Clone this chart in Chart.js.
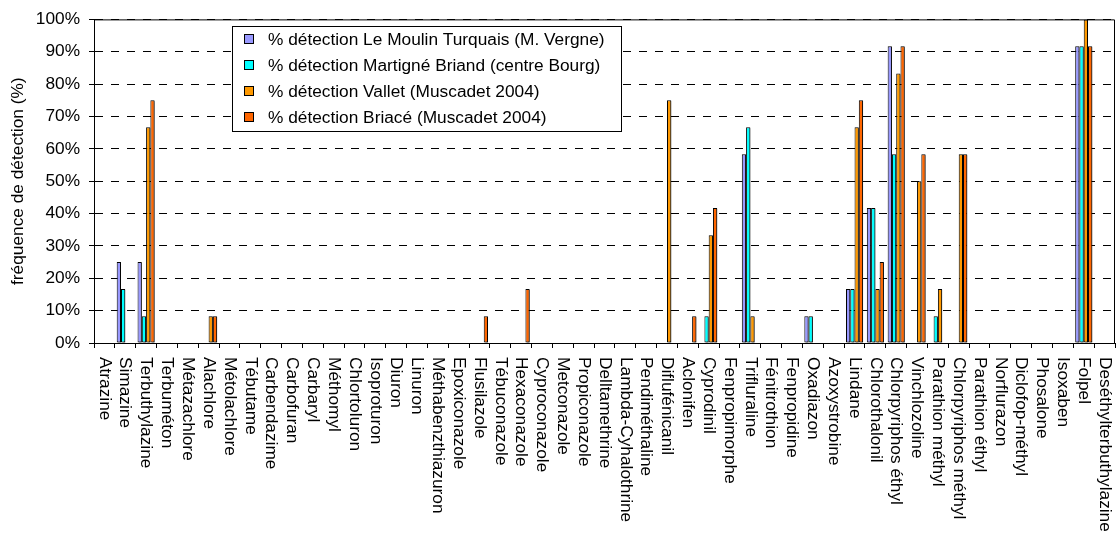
<!DOCTYPE html>
<html>
<head>
<meta charset="utf-8">
<script src="https://cdn.jsdelivr.net/npm/chart.js@4.4.1/dist/chart.umd.min.js"></script>
<style>
    html, body { margin: 0; padding: 0; background: #fff; }
</style>
</head>
<body>
<canvas id="frequence" width="1116" height="536"></canvas>
<script>
const molecules = ['Atrazine', 'Simazine', 'Terbuthylazine', 'Terbuméton', 'Métazachlore', 'Alachlore', 'Métolachlore', 'Tébutame',
    'Carbendazime', 'Carbofuran', 'Carbaryl', 'Méthomyl', 'Chlortoluron', 'Isoproturon', 'Diuron', 'Linuron', 'Méthabenzthiazuron',
    'Epoxiconazole', 'Flusilazole', 'Tébuconazole', 'Hexaconazole', 'Cyproconazole', 'Metconazole', 'Propiconazole', 'Delltamethrine',
    'Lambda-Cyhalothrine', 'Pendiméthaline', 'Diflufénicanil', 'Aclonifen', 'Cyprodinil', 'Fenpropimorphe', 'Trifluraline',
    'Fénitrothion', 'Fenpropidine', 'Oxadiazon', 'Azoxystrobine', 'Lindane', 'Chlorothalonil', 'Chlorpyriphos éthyl',
    'Vinchlozoline', 'Parathion méthyl', 'Chlorpyriphos méthyl', 'Parathion éthyl', 'Norflurazon', 'Diclofop-méthyl',
    'Phosalone', 'Isoxaben', 'Folpel', 'Deséthylterbuthylazine'];

//                      Atr Sim   Ter  Tmt Mtz Ala  Mto Teb Cbd Cbf Cby Mth Chl Iso Diu Lin Mbz Epo Flu Tbc Hex  Cyp Met Pro Del Lam Pen Dif Acl  Cyd  Fpm Tri   Fen Fpd Oxa  Azo Lin   Cht   Cpe   Vin  Pme  Cpm   Pet Nor Dic Pho Isx Fol   Des
const moulinTurquais = [0, 25,   25,  0,  0,  0,   0,  0,  0,  0,  0,  0,  0,  0,  0,  0,  0,  0,  0,  0,  0,   0,  0,  0,  0,  0,  0,  0,  0,   0,   0,  58.3, 0,  0,  8.3, 0,  16.7, 41.7, 91.7, 0,   0,   0,    0,  0,  0,  0,  0,  91.7, 0];
const martigneBriand = [0, 16.7, 8.3, 0,  0,  0,   0,  0,  0,  0,  0,  0,  0,  0,  0,  0,  0,  0,  0,  0,  0,   0,  0,  0,  0,  0,  0,  0,  0,   8.3, 0,  66.7, 0,  0,  8.3, 0,  16.7, 41.7, 58.3, 0,   8.3, 0,    0,  0,  0,  0,  0,  91.7, 0];
const vallet         = [0, 0,    66.7, 0, 0,  8.3, 0,  0,  0,  0,  0,  0,  0,  0,  0,  0,  0,  0,  0,  0,  0,   0,  0,  0,  0,  0,  0,  75, 0,   33.3, 0, 8.3,  0,  0,  0,   0,  66.7, 16.7, 83.3, 50,  16.7, 58.3, 0, 0,  0,  0,  0,  100,  0];
const briace         = [0, 0,    75,  0,  0,  8.3, 0,  0,  0,  0,  0,  0,  0,  0,  0,  0,  0,  0,  8.3, 0, 16.7, 0,  0,  0,  0,  0,  0,  0,  8.3, 41.7, 0, 0,    0,  0,  0,   0,  75,   25,   91.7, 58.3, 0,  58.3, 0,  0,  0,  0,  0,  91.7, 0];

const seriesNoms = ['% détection Le Moulin Turquais (M. Vergne)', '% détection Martigné Briand (centre Bourg)',
    '% détection Vallet (Muscadet 2004)', '% détection Briacé (Muscadet 2004)'];
const couleurs = ['#9999FF', '#00FFFF', '#FF9900', '#FF6600'];

const police = '"Liberation Sans", Arial, sans-serif';
const taille = 17.3;

const ombre = {
    id: 'ombre',
    beforeDatasetsDraw(chart) {
        const ctx = chart.ctx;
        ctx.save();
        ctx.shadowColor = 'rgba(0,0,0,0.45)';
        ctx.shadowOffsetX = 1.5;
        ctx.shadowOffsetY = 1;
        ctx.shadowBlur = 0;
    },
    afterDatasetsDraw(chart) {
        chart.ctx.restore();
    }
};

const cadre = {
    id: 'cadre',
    afterDraw(chart) {
        const { ctx, chartArea } = chart;
        ctx.save();
        ctx.strokeStyle = '#000';
        ctx.lineWidth = 1;
        ctx.beginPath();
        ctx.moveTo(chartArea.left, chartArea.top + 0.5);
        ctx.lineTo(chartArea.right - 0.5, chartArea.top + 0.5);
        ctx.lineTo(chartArea.right - 0.5, chartArea.bottom);
        ctx.stroke();
        ctx.restore();
    }
};

// noms des molécules écrits de haut en bas sous l'axe
const etiquettes = {
    id: 'etiquettes',
    afterDraw(chart) {
        const ctx = chart.ctx;
        const xs = chart.scales.x;
        ctx.save();
        ctx.fillStyle = '#000';
        ctx.font = taille + 'px ' + police;
        ctx.textAlign = 'left';
        ctx.textBaseline = 'middle';
        molecules.forEach((nom, i) => {
            ctx.save();
            ctx.translate(xs.getPixelForValue(i), chart.chartArea.bottom + 14);
            ctx.rotate(Math.PI / 2);
            ctx.fillText(nom, 0, 0);
            ctx.restore();
        });
        ctx.restore();
    }
};

const legende = {
    id: 'legende',
    afterDraw(chart) {
        const ctx = chart.ctx;
        ctx.save();
        ctx.fillStyle = '#fff';
        ctx.fillRect(232, 26, 390, 106);
        ctx.strokeStyle = '#000';
        ctx.lineWidth = 1;
        ctx.strokeRect(232.5, 26.5, 389, 105);
        ctx.font = taille + 'px ' + police;
        ctx.textBaseline = 'middle';
        chart.data.datasets.forEach((ds, i) => {
            const y = 39 + i * 26;
            ctx.fillStyle = ds.backgroundColor;
            ctx.fillRect(244, y - 5, 10, 10);
            ctx.strokeStyle = '#000';
            ctx.strokeRect(244.5, y - 4.5, 9, 9);
            ctx.fillStyle = '#000';
            ctx.fillText(ds.label, 268, y + 1);
        });
        ctx.restore();
    }
};

const ctx = document.getElementById('frequence').getContext('2d');

const frequence = new Chart(ctx, {
    type: 'bar',
    data: {
        labels: molecules,
        datasets: [moulinTurquais, martigneBriand, vallet, briace].map((valeurs, i) => ({
            label: seriesNoms[i],
            data: valeurs,
            backgroundColor: couleurs[i],
            borderColor: '#000',
            borderWidth: 1,
            borderSkipped: false,
            categoryPercentage: 0.82,
            barPercentage: 1
        }))
    },
    options: {
        responsive: false,
        animation: false,
        layout: { padding: { top: 18, right: 1, left: 0, bottom: 0 } },
        plugins: {
            legend: { display: false },
            tooltip: { enabled: false }
        },
        scales: {
            x: {
                offset: true,
                afterFit: (scale) => { scale.height = 193; },
                ticks: { display: false, autoSkip: false },
                grid: {
                    offset: true,
                    drawOnChartArea: false,
                    drawTicks: true,
                    tickLength: 5,
                    color: '#000'
                },
                border: { display: true, color: '#000', width: 1 }
            },
            y: {
                min: 0,
                max: 100,
                afterFit: (scale) => { scale.width = 94; },
                ticks: {
                    stepSize: 10,
                    color: '#000',
                    padding: 9,
                    font: { family: police, size: taille },
                    callback: (v) => v + '%'
                },
                grid: {
                    color: '#000',
                    lineWidth: 1,
                    drawTicks: true,
                    tickLength: 5
                },
                border: { display: true, color: '#000', width: 1, dash: [8, 8] },
                title: {
                    display: true,
                    text: 'fréquence de détection (%)',
                    color: '#000',
                    font: { family: police, size: taille },
                    padding: { top: 8, bottom: 0 }
                }
            }
        }
    },
    plugins: [ombre, cadre, etiquettes, legende]
});
</script>
</body>
</html>
